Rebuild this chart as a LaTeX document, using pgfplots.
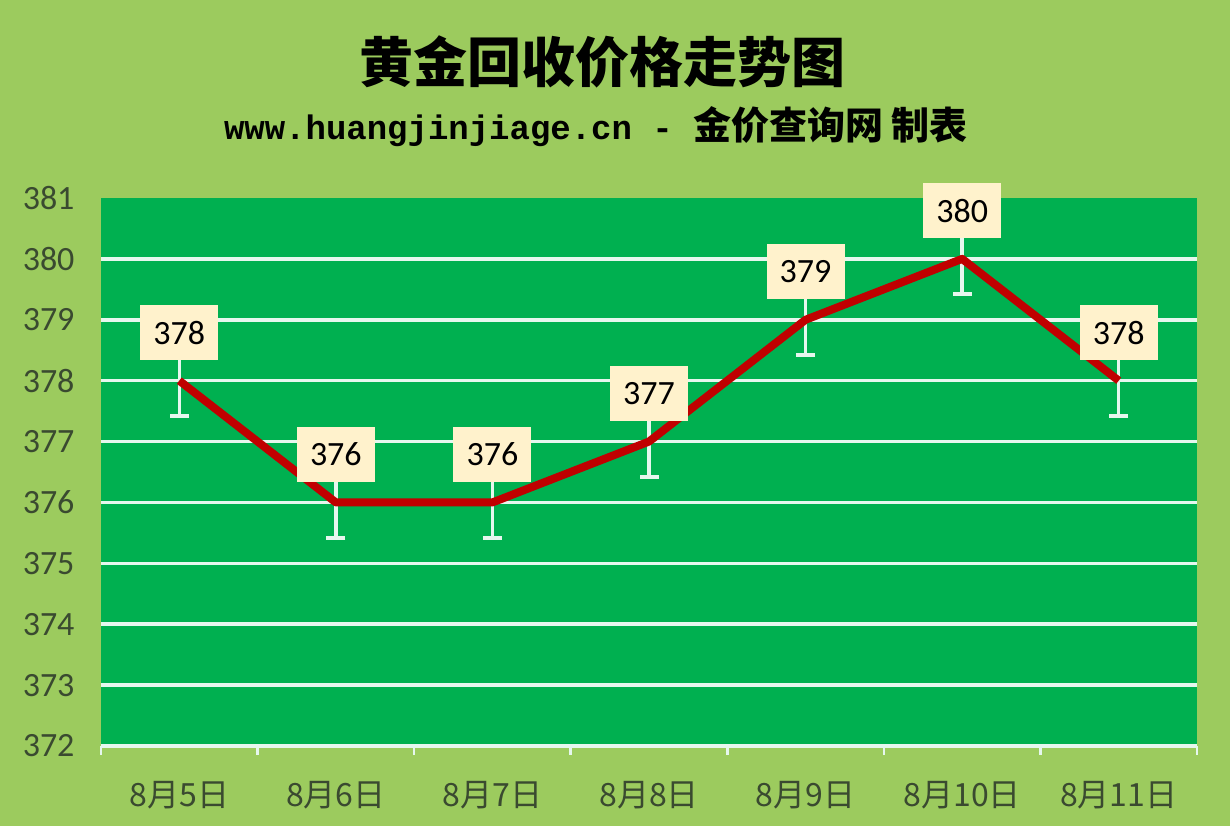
\documentclass[border=0pt]{standalone}
\usepackage{fontspec}
\setmainfont{Carlito}
\newfontfamily\cjk{Noto Sans CJK SC}
\newfontfamily\mono{Liberation Mono}
\usepackage{pgfplots}
\pgfplotsset{compat=1.18}
\definecolor{bggreen}{HTML}{9CCB5E}
\definecolor{plotgreen}{HTML}{00B050}
\definecolor{linered}{HTML}{C00000}
\definecolor{gridwhite}{HTML}{E6F7EE}
\definecolor{cream}{HTML}{FFF2CC}
\definecolor{ticktext}{HTML}{3A4A30}
\begin{document}
\begin{tikzpicture}
\fill[bggreen] (0,0) rectangle (1230pt,826pt);
\node[font=\cjk\bfseries\fontsize{54}{60}\selectfont] at (602pt,764pt) {黄金回收价格走势图};
\node[inner sep=0pt] at (596pt,699pt) {{\mono\bfseries\fontsize{34}{40}\selectfont www.huangjinjiage.cn - }{\cjk\bfseries\fontsize{38}{44}\selectfont 金价查询网 制表}};
\begin{axis}[
  at={(101pt,80pt)}, anchor=south west,
  width=1096pt, height=548pt, scale only axis,
  clip=false,
  xmin=-0.5, xmax=6.5, ymin=372, ymax=381,
  axis line style={draw=none},
  axis background/.style={fill=plotgreen},
  /pgf/number format/assume math mode=true,
  xtick={0,...,6},
  xticklabels={8月5日,8月6日,8月7日,8月8日,8月9日,8月10日,8月11日},
  minor xtick={-0.5,0.5,...,6.5},
  major tick length=0pt,
  minor tick length=9pt,
  tick align=outside,
  xtick pos=bottom, ytick pos=left,
  minor tick style={draw=gridwhite, line width=2.5pt},
  ytick={372,...,381},
  extra y ticks={372,...,380},
  extra y tick labels={},
  extra y tick style={grid=major},
  major grid style={draw=gridwhite, line width=3.5pt},
  xticklabel style={font=\cjk\fontsize{32}{36}\selectfont, text=ticktext, anchor=center, yshift=-49pt},
  yticklabel style={font=\fontsize{34}{40}\selectfont, text=ticktext, xshift=-23pt},
]
\addplot[draw=none, mark=none, forget plot,
  error bars/.cd, y dir=both, y explicit,
  error bar style={draw=gridwhite, line width=3.5pt},
  error mark options={rotate=90, draw=gridwhite, line width=3.5pt, mark size=9.5pt}]
  coordinates {(0,378) +- (0,0.58) (1,376) +- (0,0.58) (2,376) +- (0,0.58) (3,377) +- (0,0.58) (4,379) +- (0,0.58) (5,380) +- (0,0.58) (6,378) +- (0,0.58)};
\addplot[draw=linered, line width=8pt, line join=round, mark=none,
  nodes near coords,
  every node near coord/.append style={font=\fontsize{34}{40}\selectfont, text=black, fill=cream, minimum width=78pt, minimum height=55pt, inner sep=0pt, anchor=center, yshift=48pt}]
  coordinates {(0,378) (1,376) (2,376) (3,377) (4,379) (5,380) (6,378)};
\end{axis}
\pgfresetboundingbox
\useasboundingbox (0,0) rectangle (1230pt,826pt);
\end{tikzpicture}
\end{document}
